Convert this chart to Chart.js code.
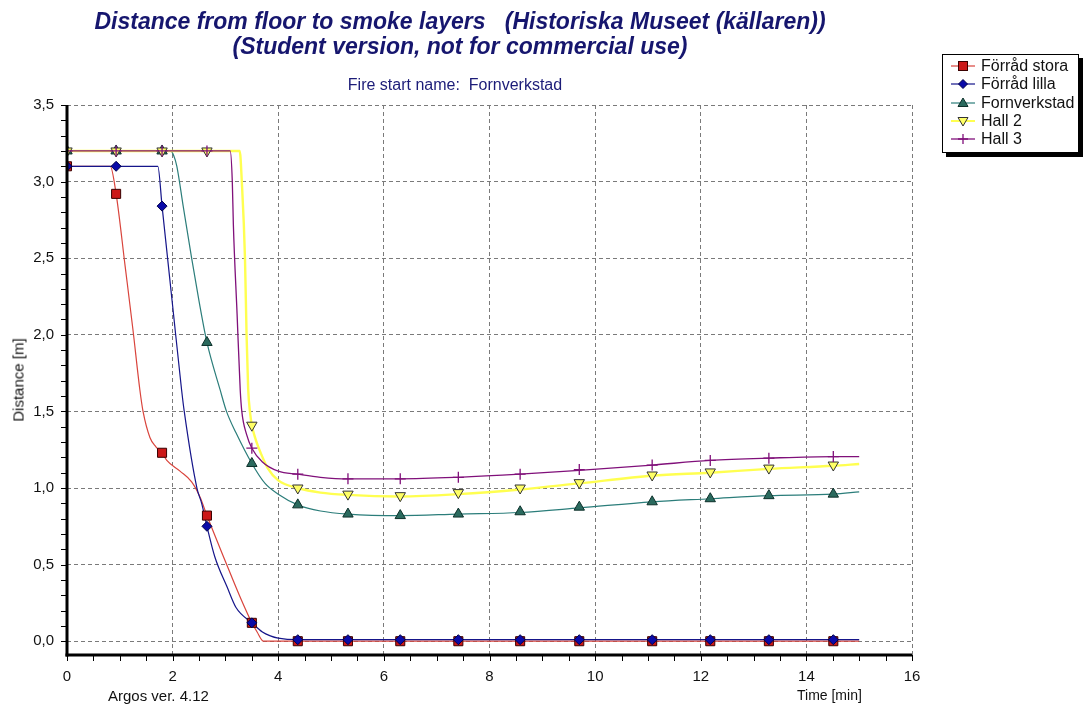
<!DOCTYPE html>
<html>
<head>
<meta charset="utf-8">
<script src="https://cdn.jsdelivr.net/npm/chart.js@4.4.1/dist/chart.umd.min.js"></script>
<style>
  html, body { margin: 0; padding: 0; background: #fff; }
  #wrap { position: relative; width: 1085px; height: 708px; overflow: hidden; font-family: "Liberation Sans", Arial, sans-serif; }
  #c { position: absolute; left: 0; top: 0; }
  .t { position: absolute; white-space: nowrap; }
  #title { left: 0; width: 920px; top: 9px; text-align: center; font-weight: bold; font-style: italic; font-size: 23px; line-height: 25px; color: #16166e; }
  #subtitle { left: 0; width: 910px; top: 76px; text-align: center; font-size: 16px; color: #1c1c78; }
  #ytitle { left: 18px; top: 380px; transform: translate(-50%, -50%) rotate(-90deg); font-size: 15px; color: #111; }
  #argos { left: 108px; top: 687px; font-size: 15px; color: #111; }
  #xtitle { left: 797px; top: 687px; font-size: 14px; color: #111; }
  #legend { position: absolute; left: 942px; top: 54px; width: 135px; height: 97px; border: 1px solid #000; background: #fff; box-shadow: 4px 4px 0 #000; }
  .row { position: absolute; left: 8px; height: 18px; display: flex; align-items: center; font-size: 16px; color: #111; }
  .row svg { margin-right: 6px; }
</style>
</head>
<body>
<div id="wrap">
  <canvas id="c" width="1085" height="708"></canvas>
  <div class="t" id="title">Distance from floor to smoke layers&nbsp;&nbsp;&nbsp;(Historiska Museet (källaren))<br>(Student version, not for commercial use)</div>
  <div class="t" id="subtitle">Fire start name:&nbsp; Fornverkstad</div>
  <div class="t" id="ytitle">Distance [m]</div>
  <div class="t" id="argos">Argos ver. 4.12</div>
  <div class="t" id="xtitle">Time [min]</div>
  <div id="legend"></div>
</div>
<script>
// ---- data (time in minutes, distance in metres) ----
const seriesNames = ["Förråd stora", "Förråd lilla", "Fornverkstad", "Hall 2", "Hall 3"];
const markerTimes = [0, 0.93, 1.80, 2.65, 3.50, 4.37, 5.32, 6.31, 7.41, 8.58, 9.70, 11.08, 12.18, 13.29, 14.51];

const storaMarkers = [3.10, 2.92, 1.23, 0.82, 0.12, 0, 0, 0, 0, 0, 0, 0, 0, 0, 0];
const lillaMarkers = [3.10, 3.10, 2.84, 0.75, 0.12, 0.01, 0.01, 0.01, 0.01, 0.01, 0.01, 0.01, 0.01, 0.01, 0.01];
const fornMarkers  = [3.20, 3.20, 3.20, 1.95, 1.16, 0.89, 0.83, 0.82, 0.83, 0.845, 0.875, 0.91, 0.93, 0.95, 0.96];
const hall2Markers = [3.20, 3.20, 3.20, 3.20, 1.41, 1.00, 0.96, 0.95, 0.97, 1.00, 1.035, 1.085, 1.105, 1.13, 1.15];
const hall3Markers = [3.20, 3.20, 3.20, 3.20, 1.26, 1.09, 1.06, 1.06, 1.07, 1.09, 1.12, 1.15, 1.18, 1.195, 1.205];

const storaTimes  = [0, 0.82, 0.93, 1.10, 1.25, 1.38, 1.44, 1.57, 1.68, 1.80, 1.89, 2.14, 2.36, 2.52, 2.65, 3.00, 3.30, 3.50, 3.60, 3.72, 4.5, 6, 8, 10, 12, 14, 15];
const storaValues = [3.10, 3.10, 2.92, 2.45, 2.03, 1.64, 1.50, 1.33, 1.27, 1.23, 1.18, 1.11, 1.04, 0.94, 0.82, 0.52, 0.27, 0.12, 0.06, 0, 0, 0, 0, 0, 0, 0, 0];

const lillaTimes  = [0, 1.72, 1.80, 2.00, 2.17, 2.22, 2.46, 2.55, 2.65, 2.80, 3.03, 3.20, 3.50, 3.70, 3.85, 4.00, 4.37, 5, 6, 8, 10, 12, 14, 15];
const lillaValues = [3.10, 3.10, 2.84, 2.19, 1.64, 1.50, 1.00, 0.90, 0.75, 0.55, 0.355, 0.22, 0.12, 0.06, 0.035, 0.02, 0.01, 0.01, 0.01, 0.01, 0.01, 0.01, 0.01, 0.01];

const fornTimes  = [0, 1.96, 2.02, 2.08, 2.20, 2.36, 2.50, 2.65, 2.90, 3.02, 3.20, 3.50, 3.75, 4.00, 4.37, 4.80, 5.32, 6.31, 7.41, 8.58, 9.70, 11.08, 12.18, 13.29, 14.51, 15.0];
const fornValues = [3.20, 3.20, 3.17, 3.10, 2.84, 2.50, 2.22, 1.95, 1.64, 1.50, 1.36, 1.16, 1.03, 0.96, 0.89, 0.85, 0.83, 0.82, 0.83, 0.84, 0.87, 0.91, 0.93, 0.95, 0.96, 0.975];

const hall2Times  = [0, 3.27, 3.31, 3.37, 3.40, 3.43, 3.47, 3.50, 3.56, 3.62, 3.80, 4.00, 4.37, 4.80, 5.32, 6.31, 7.41, 8.58, 9.70, 11.08, 12.18, 13.29, 14.51, 15.0];
const hall2Values = [3.20, 3.20, 3.00, 2.50, 2.00, 1.65, 1.48, 1.41, 1.33, 1.27, 1.13, 1.05, 1.00, 0.97, 0.955, 0.945, 0.96, 0.99, 1.03, 1.08, 1.10, 1.125, 1.145, 1.157];

const hall3Times  = [0, 3.09, 3.13, 3.15, 3.22, 3.28, 3.31, 3.40, 3.50, 3.70, 4.00, 4.37, 4.80, 5.32, 6.31, 7.41, 8.58, 9.70, 11.08, 12.18, 13.29, 14.51, 15.0];
const hall3Values = [3.20, 3.20, 3.00, 2.72, 2.14, 1.64, 1.50, 1.35, 1.26, 1.17, 1.11, 1.09, 1.07, 1.06, 1.06, 1.07, 1.09, 1.115, 1.15, 1.18, 1.195, 1.205, 1.205];

const xTicks = [0, 2, 4, 6, 8, 10, 12, 14, 16];
const yTicks = [0, 0.5, 1.0, 1.5, 2.0, 2.5, 3.0, 3.5];

// ---- styles ----
const styles = [
  { line: "#d9443c", lw: 1.2, fill: "#cc1818", border: "#3a0000", shape: "rect", r: 6.4, rot: 0 },
  { line: "#15158a", lw: 1.2, fill: "#0a0aa8", border: "#00004a", shape: "rectRot", r: 5, rot: 0 },
  { line: "#2b7d7a", lw: 1.2, fill: "#2a6a5e", border: "#0d302a", shape: "triangle", r: 6, rot: 0 },
  { line: "#ffff50", lw: 2.4, fill: "#ffff66", border: "#333333", shape: "triangle", r: 6, rot: 180 },
  { line: "#80107a", lw: 1.3, fill: "#80107a", border: "#80107a", shape: "cross", r: 5.5, rot: 0 }
];

const lineTimes = [storaTimes, lillaTimes, fornTimes, hall2Times, hall3Times];
const lineValues = [storaValues, lillaValues, fornValues, hall2Values, hall3Values];
const markerValues = [storaMarkers, lillaMarkers, fornMarkers, hall2Markers, hall3Markers];

const datasets = [];
for (let i = 0; i < 5; i++) {
  const s = styles[i];
  datasets.push({
    label: seriesNames[i],
    data: lineTimes[i].map((t, k) => ({ x: t, y: lineValues[i][k] })),
    borderColor: s.line, borderWidth: s.lw,
    pointRadius: 0, showLine: true, cubicInterpolationMode: "monotone",
    order: 20 - i
  });
}
for (let i = 0; i < 5; i++) {
  const s = styles[i];
  datasets.push({
    label: seriesNames[i] + " markers",
    data: markerTimes.map((t, k) => ({ x: t, y: markerValues[i][k] })),
    showLine: false,
    pointStyle: s.shape, pointRadius: s.r, pointRotation: s.rot,
    pointBackgroundColor: s.fill, pointBorderColor: s.border,
    pointBorderWidth: s.shape === "cross" ? 1.3 : 1,
    order: 10 - i
  });
}

const axisPlugin = {
  id: "axisPlugin",
  afterDatasetsDraw(chart) {
    const { ctx, chartArea: a, scales: { x, y } } = chart;
    ctx.save();
    ctx.strokeStyle = "#000";
    ctx.lineWidth = 1;
    for (let v = 0; v <= 35; v++) {
      const py = Math.round(y.getPixelForValue(v / 10)) + 0.5;
      ctx.beginPath(); ctx.moveTo(a.left - 6, py); ctx.lineTo(a.left, py); ctx.stroke();
    }
    for (let v = 0; v <= 32; v++) {
      const px = Math.round(x.getPixelForValue(v / 2)) + 0.5;
      ctx.beginPath(); ctx.moveTo(px, a.bottom); ctx.lineTo(px, a.bottom + 6); ctx.stroke();
    }
    ctx.lineWidth = 3;
    ctx.beginPath(); ctx.moveTo(a.left, a.top); ctx.lineTo(a.left, a.bottom + 1.5); ctx.stroke();
    ctx.beginPath(); ctx.moveTo(a.left - 1.5, a.bottom); ctx.lineTo(a.right, a.bottom); ctx.stroke();
    ctx.restore();
  }
};

new Chart(document.getElementById("c"), {
  type: "scatter",
  data: { datasets },
  plugins: [axisPlugin],
  options: {
    responsive: false, animation: false, devicePixelRatio: 1,
    layout: { padding: { left: 0, right: 173, top: 105, bottom: 0 } },
    plugins: { legend: { display: false }, tooltip: { enabled: false }, title: { display: false } },
    scales: {
      x: {
        type: "linear", min: 0, max: 16,
        afterBuildTicks: s => { s.ticks = xTicks.map(v => ({ value: v })); },
        afterFit: s => { s.height = 53; },
        grid: { color: "#7a7a7a", lineWidth: 1, drawTicks: false },
        border: { display: false, dash: [4, 3] },
        ticks: { padding: 13, color: "#111", font: { family: "Liberation Sans", size: 15 }, callback: v => String(v) }
      },
      y: {
        type: "linear", min: -0.09, max: 3.5,
        afterBuildTicks: s => { s.ticks = yTicks.map(v => ({ value: v })); },
        afterFit: s => { s.width = 67; },
        grid: { color: "#7a7a7a", lineWidth: 1, drawTicks: false },
        border: { display: false, dash: [4, 3] },
        ticks: { padding: 13, color: "#111", font: { family: "Liberation Sans", size: 15 }, callback: v => v.toFixed(1).replace(".", ",") }
      }
    }
  }
});

// ---- legend ----
const legend = document.getElementById("legend");
const rowTops = [2, 20, 39, 57, 75];
function markerSvg(s) {
  const cx = 12, cy = 9;
  let m = "";
  if (s.shape === "rect") m = `<rect x="${cx-4.5}" y="${cy-4.5}" width="9" height="9" fill="${s.fill}" stroke="${s.border}"/>`;
  else if (s.shape === "rectRot") m = `<polygon points="${cx},${cy-4.5} ${cx+4.5},${cy} ${cx},${cy+4.5} ${cx-4.5},${cy}" fill="${s.fill}" stroke="${s.border}"/>`;
  else if (s.shape === "triangle" && s.rot === 0) m = `<polygon points="${cx},${cy-5} ${cx+5},${cy+3.5} ${cx-5},${cy+3.5}" fill="${s.fill}" stroke="${s.border}"/>`;
  else if (s.shape === "triangle") m = `<polygon points="${cx-5},${cy-3.5} ${cx+5},${cy-3.5} ${cx},${cy+5}" fill="${s.fill}" stroke="${s.border}"/>`;
  else m = `<path d="M${cx-5} ${cy}H${cx+5}M${cx} ${cy-5}V${cy+5}" stroke="${s.border}" stroke-width="1.3"/>`;
  return `<svg width="24" height="18"><line x1="0" y1="${cy}" x2="24" y2="${cy}" stroke="${s.line}" stroke-width="${Math.min(s.lw,2)}"/>${m}</svg>`;
}
seriesNames.forEach((n, i) => {
  const d = document.createElement("div");
  d.className = "row";
  d.style.top = rowTops[i] + "px";
  d.innerHTML = markerSvg(styles[i]) + "<span>" + n + "</span>";
  legend.appendChild(d);
});
</script>
</body>
</html>
